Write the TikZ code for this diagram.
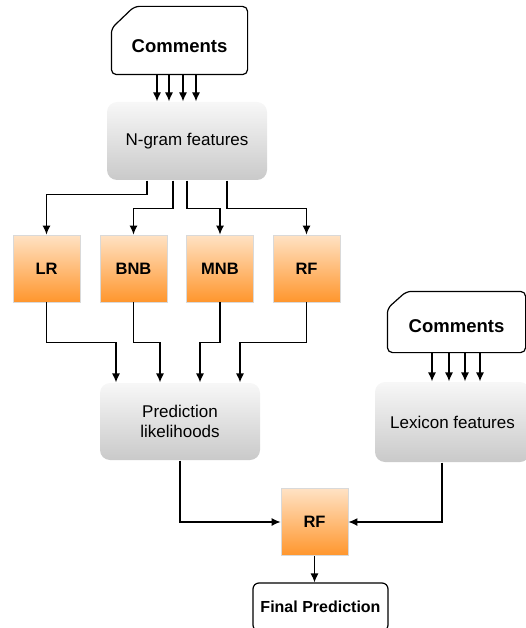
\documentclass[tikz,border=0pt]{standalone}
\usepackage{fontspec}
\setmainfont{Liberation Sans}
\usetikzlibrary{positioning,arrows.meta,calc}
\tikzset{>={Latex[length=9pt,width=8pt]}}

\begin{document}
\begin{tikzpicture}[x=1pt, y=-1pt, line width=1.2pt,
    card/.style={rectangle, draw=none, align=center, text height=25pt, text depth=0pt,
                 font=\fontsize{18.5}{21}\selectfont\bfseries},
    featbox/.style={rectangle, rounded corners=10pt, top color=gray!6, bottom color=gray!42,
                 draw=none, align=center, font=\fontsize{17}{20}\selectfont},
    clfbox/.style={rectangle, draw=gray!30, line width=0.8pt, minimum width=67pt, minimum height=67pt,
                 top color={rgb,255:red,255;green,226;blue,196}, bottom color={rgb,255:red,255;green,150;blue,45},
                 font=\fontsize{16.5}{19}\selectfont\bfseries},
    outbox/.style={rectangle, draw, rounded corners=6pt, font=\fontsize{16}{19}\selectfont\bfseries}]
    \useasboundingbox (0,0) rectangle (525,628);
    % input cards
    \node[card, minimum width=135pt, minimum height=67pt] (c1) at (179.5,40.5) {Comments};
    \draw[rounded corners=5pt] ([yshift=-22pt]c1.north west) -- ([xshift=23pt]c1.north west)
        -- (c1.north east) -- (c1.south east) -- (c1.south west) -- cycle;
    \node[card, minimum width=137pt, minimum height=60pt, text height=21pt] (c2) at (456.5,322) {Comments};
    \draw[rounded corners=5pt] ([yshift=-17pt]c2.north west) -- ([xshift=19pt]c2.north west)
        -- (c2.north east) -- (c2.south east) -- (c2.south west) -- cycle;
    % features
    \node[featbox, minimum width=160pt, minimum height=78pt] (ngram) at (187,141) {N-gram features};
    \node[featbox, minimum width=160pt, minimum height=77pt] (pred) at (180,421.5) {Prediction\\likelihoods};
    \node[featbox, minimum width=155pt, minimum height=80pt] (lex) at (452.5,422) {Lexicon features};
    % classifiers
    \node[clfbox] (lr) at (46.5,268.5) {LR};
    \node[clfbox] (bnb) at (133.5,268.5) {BNB};
    \node[clfbox] (mnb) at (220,268.5) {MNB};
    \node[clfbox] (rf) at (306.5,268.5) {RF};
    \node[clfbox] (rf2) at (314.5,522) {RF};
    \node[outbox, minimum width=135pt, minimum height=48pt] (final) at (320.5,607) {Final Prediction};

    \foreach \dx in {-22.5,-10.5,3.5,16.5}
        \draw[->] ([xshift=\dx pt]c1.south) -- ([xshift=\dx pt]c1.south |- ngram.north);
    \foreach \dx in {-24.5,-7.5,8.5,23.5}
        \draw[->] ([xshift=\dx pt]c2.south) -- ([xshift=\dx pt]c2.south |- lex.north);

    % n-gram to classifiers
    \draw[->] ([xshift=-40pt]ngram.south) -- ++(0,14) -| (lr.north);
    \draw[->] ([xshift=-14pt]ngram.south) -- ++(0,28) -| (bnb.north);
    \draw[->] (ngram.south) -- ++(0,28) -| (mnb.north);
    \draw[->] ([xshift=40pt]ngram.south) -- ++(0,28) -| (rf.north);

    % classifiers to likelihoods
    \draw[->] (lr.south) -- ++(0,40) -| ([xshift=-64pt]pred.north);
    \draw[->] (bnb.south) -- ++(0,40) -| ([xshift=-20pt]pred.north);
    \draw[->] (mnb.south) -- ++(0,40) -| ([xshift=20pt]pred.north);
    \draw[->] (rf.south) -- ++(0,40) -| ([xshift=60pt]pred.north);

    % final stage
    \draw[->] (pred.south) |- (rf2.west);
    \draw[->] ([xshift=-10.5pt]lex.south) |- (rf2.east);
    \draw[->] (rf2.south) -- (rf2.south |- final.north);
\end{tikzpicture}
\end{document}
